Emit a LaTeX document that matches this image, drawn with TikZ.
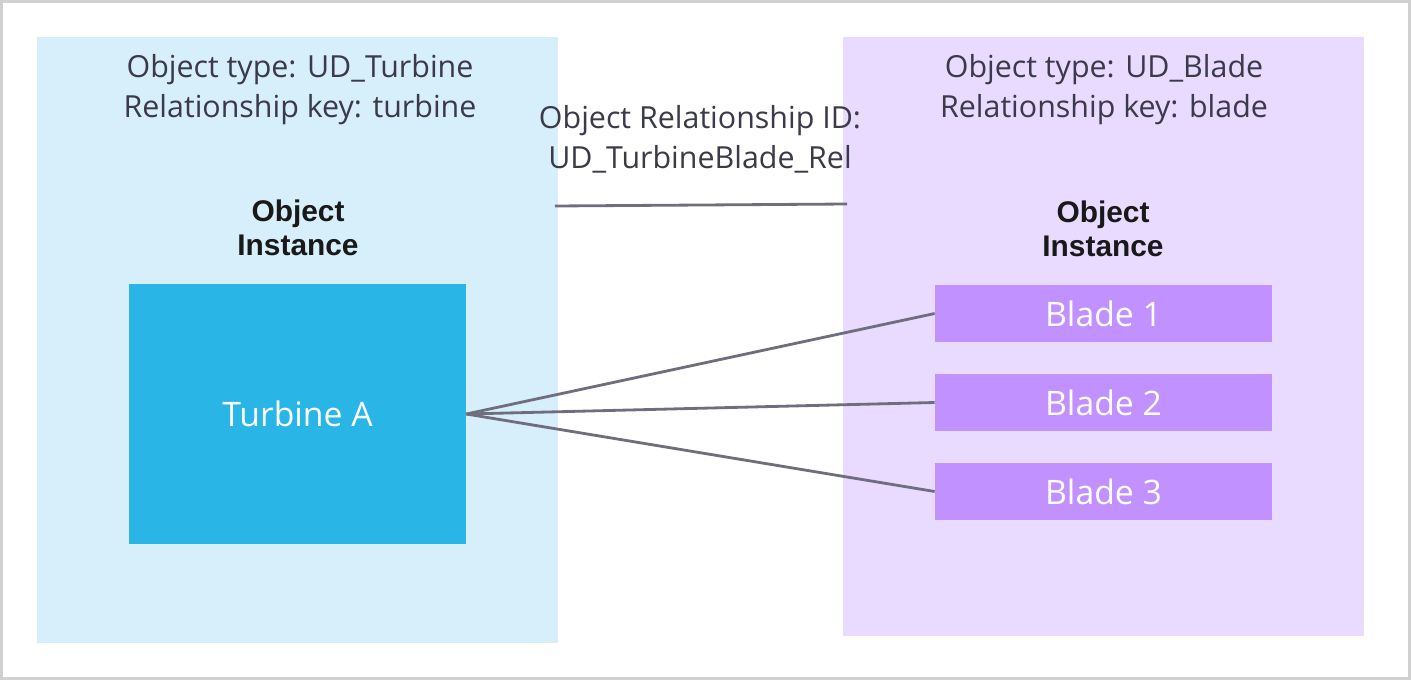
\documentclass[tikz,border=0pt]{standalone}
\usepackage{fontspec}
\setmainfont{Open Sans}
\newfontfamily\boldsans{Liberation Sans}
\usepackage{tikz}
\usetikzlibrary{positioning}
\definecolor{framecol}{RGB}{208,208,208}
\definecolor{turbpanel}{RGB}{215,238,251}
\definecolor{turbcol}{RGB}{41,181,230}
\definecolor{bladepanel}{RGB}{233,219,255}
\definecolor{bladecol}{RGB}{192,145,255}
\definecolor{linkcol}{RGB}{110,110,124}
\definecolor{textcol}{RGB}{58,58,72}
\tikzset{
  % big coloured panel behind one object type
  panel/.style={rectangle, draw=none, fill=#1, minimum width=10.42cm, minimum height=12.12cm, inner sep=0pt},
  % turbine instance box
  turbbox/.style={rectangle, draw=none, fill=turbcol, minimum width=6.74cm, minimum height=5.2cm,
                  font=\fontsize{19.2}{23}\selectfont, text=white, inner sep=0pt},
  % blade instance box
  bladebox/.style={rectangle, draw=none, fill=bladecol, minimum width=6.74cm, minimum height=1.14cm,
                   font=\fontsize{19.2}{23}\selectfont, text=white, inner sep=0pt},
  % plain caption text
  captxt/.style={align=center, font=\fontsize{17.3}{22.7}\selectfont, text=textcol, inner sep=0pt},
  % bold heading
  headtxt/.style={align=center, font=\boldsans\bfseries\fontsize{17}{19.3}\selectfont, text=black!90, inner sep=0pt},
  % connector
  link/.style={draw=linkcol, line width=1.6pt},
}
\begin{document}
\begin{tikzpicture}[x=0.02cm, y=-0.02cm]
  \useasboundingbox (0,0) rectangle (1411,680);
  \draw[framecol, line width=2pt] (1,1) rectangle (1410,679);

  % panels
  \node[panel=turbpanel] (lpanel) at (297.5,340) {};
  \node[panel=bladepanel, minimum height=11.98cm] (rpanel) at (1103.5,336.5) {};

  % left side texts
  \node[captxt] (ltype) at (300,90) {Object type: UD\_Turbine\\Relationship key: turbine};
  \node[headtxt] (linst) at (298,228) {Object\\Instance};
  \node[turbbox] (turb) at (297.5,414) {Turbine A};

  % right side texts
  \node[captxt] (rtype) at (1104,90) {Object type: UD\_Blade\\Relationship key: blade};
  \node[headtxt] (rinst) at (1103,229) {Object\\Instance};
  \node[bladebox] (b1) at (1103.5,313.5) {Blade 1};
  \node[bladebox] (b2) at (1103.5,402.5) {Blade 2};
  \node[bladebox] (b3) at (1103.5,491.5) {Blade 3};

  % relationship
  \node[captxt] (relid) at (700,139) {Object Relationship ID:\\UD\_TurbineBlade\_Rel};
  \coordinate (rl) at (555,206);
  \coordinate (rr) at (847,204);
  \draw[link] (rl) -- (rr);

  \foreach \b in {b1,b2,b3}
    \draw[link] (turb.east) -- (\b.west);
\end{tikzpicture}
\end{document}
